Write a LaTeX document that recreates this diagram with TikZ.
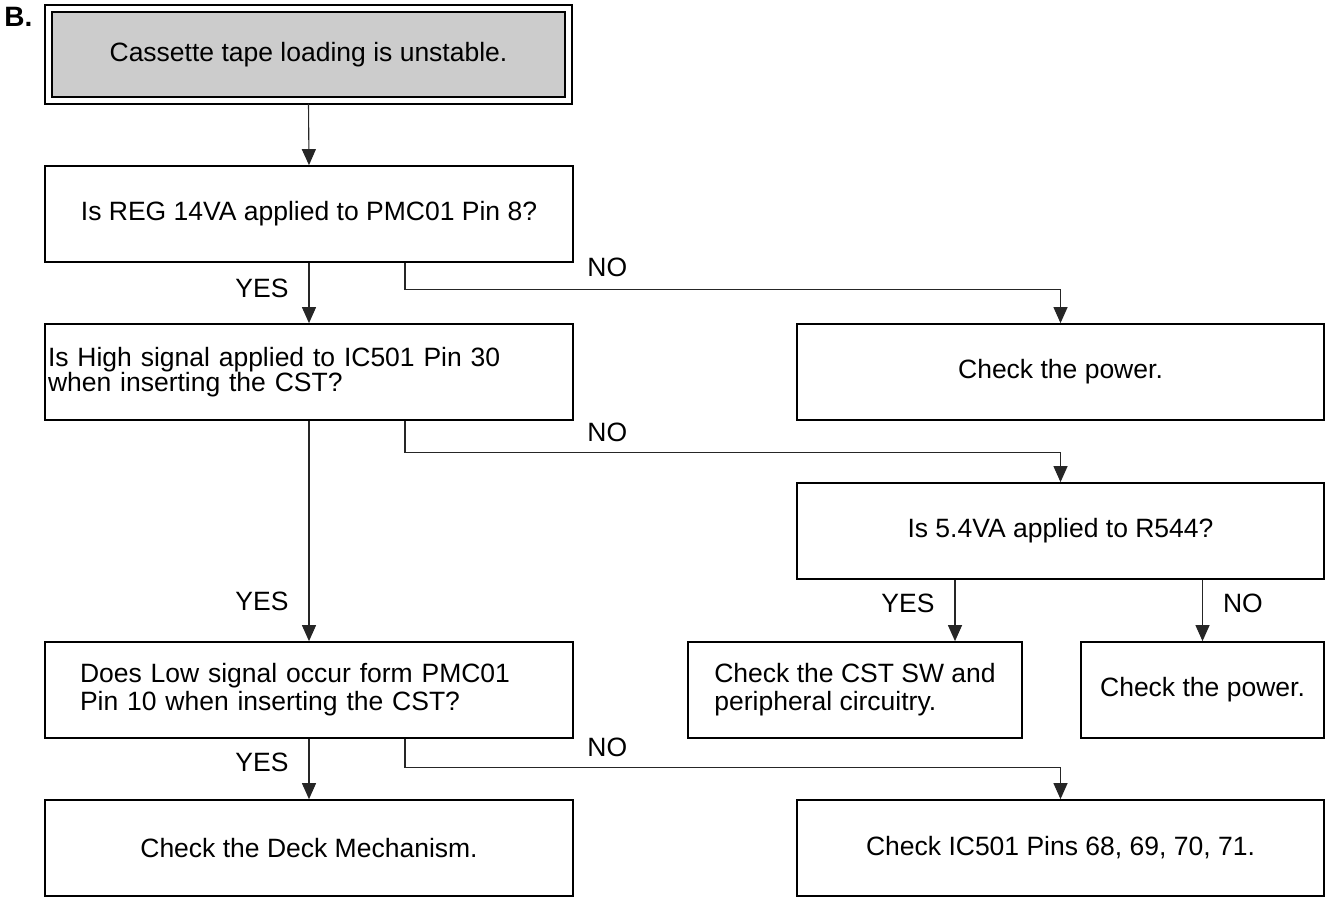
\documentclass[tikz,border=0pt]{standalone}
\usepackage{fontspec}
\setmainfont{Liberation Sans}
\usetikzlibrary{arrows.meta}
\begin{document}
\begin{tikzpicture}[x=0.5pt,y=-0.5pt,
  font=\fontsize{13.25pt}{14pt}\selectfont,
  box/.style={draw, line width=0.85pt, inner xsep=0pt, inner ysep=0pt, minimum height=48pt, align=center},
  lbl/.style={inner sep=0pt},
  arr/.style={draw=black!85, line width=0.55pt, -{Triangle[length=8pt,width=7pt]}}]
\useasboundingbox (0,0) rectangle (1327,897);

\node[anchor=west, inner sep=0pt, font=\bfseries\fontsize{14pt}{16pt}\selectfont] (lab) at (4,17) {B.};

\node[box, fill=gray!40, line width=0.7pt, minimum width=256.5pt, minimum height=42.5pt] (start) at (308.5,54.5) {Cassette tape loading is unstable.};
\draw[line width=1.1pt] ([shift={(-3pt,3pt)}]start.north west) rectangle ([shift={(3pt,-3pt)}]start.south east);

\node[box, minimum width=264pt] (b2) at (309,214) {Is REG 14VA applied to PMC01 Pin 8?};
\node[box, text width=261pt, inner xsep=1.5pt, align=left] (b3) at (309,372) {Is High signal applied to IC501 Pin 30\\[-1.5pt]when inserting the CST?};
\node[box, text width=229pt, inner xsep=17.5pt, align=left] (b4) at (309,690) {Does Low signal occur form PMC01\\Pin 10 when inserting the CST?};
\node[box, minimum width=264pt] (b5) at (309,848) {Check the Deck Mechanism.};

\node[box, minimum width=263.5pt] (r1) at (1060.5,372) {Check the power.};
\node[box, minimum width=263.5pt] (r2) at (1060.5,531) {Is 5.4VA applied to R544?};
\node[box, minimum width=167pt, align=left] (r3) at (855,690) {Check the CST SW and\\peripheral circuitry.};
\node[box, minimum width=121.5pt] (r4) at (1202.5,690) {Check the power.};
\node[box, minimum width=263.5pt] (r5) at (1060.5,848) {Check IC501 Pins 68, 69, 70, 71.};

\coordinate (nox) at (405,0);
\coordinate (yx) at (955,0);

\draw[arr] ([yshift=-3pt]start.south) -- (b2.north);
\draw[arr] (b2.south) -- node[lbl, pos=0.42, left=10pt] (y1) {YES} (b3.north);
\draw[arr] (b2.south -| nox) -- ++(0,27) -| (r1.north);
\node[lbl, anchor=west] (n1) at (587,267.5) {NO};

\draw[arr] (b3.south) -- node[lbl, pos=0.82, left=10pt] (y2) {YES} (b4.north);
\draw[arr] (b3.south -| nox) -- ++(0,32) -| (r2.north);
\node[lbl, anchor=west] (n2) at (587,432) {NO};

\draw[arr] (b4.south) -- node[lbl, pos=0.39, left=10pt] (y3) {YES} (b5.north);
\draw[arr] (b4.south -| nox) -- ++(0,29) -| (r5.north);
\node[lbl, anchor=west] (n3) at (587,747) {NO};

\draw[arr] (r2.south -| yx) -- node[lbl, pos=0.38, left=10pt] (y4) {YES} (r3.north -| yx);
\draw[arr] (r2.south -| r4.north) -- node[lbl, pos=0.38, right=10pt] (n4) {NO} (r4.north);
\end{tikzpicture}
\end{document}
